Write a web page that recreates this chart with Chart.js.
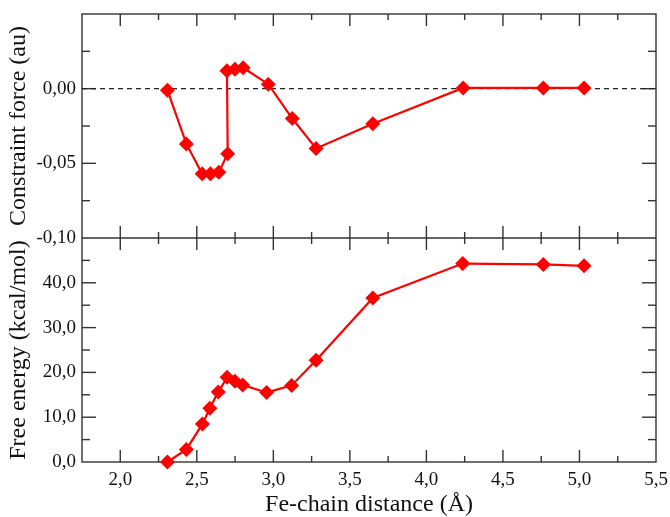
<!DOCTYPE html>
<html>
<head>
<meta charset="utf-8">
<script src="https://cdn.jsdelivr.net/npm/chart.js@4"></script>
<style>
    html, body { margin: 0; padding: 0; background: #fff; }
    #wrap { width: 670px; height: 517px; }
</style>
</head>
<body>
<div id="wrap"><canvas id="chart" width="670" height="517"></canvas></div>
<script>
// Fe-chain distance (Å) for each panel
const forceDist = [2.308, 2.432, 2.535, 2.589, 2.644, 2.702, 2.697, 2.749, 2.803, 2.967, 3.124, 3.279, 3.650, 4.240, 4.764, 5.030]
const forceValues = [-0.001, -0.037, -0.057, -0.057, -0.056, -0.0435, 0.012, 0.013, 0.014, 0.003, -0.020, -0.040, -0.0235, 0.0005, 0.0005, 0.0005]

const energyDist = [2.308, 2.432, 2.537, 2.585, 2.640, 2.698, 2.749, 2.800, 2.956, 3.120, 3.279, 3.650, 4.237, 4.764, 5.030]
const energyValues = [0.0, 2.8, 8.5, 12.0, 15.6, 18.9, 18.0, 17.2, 15.5, 17.1, 22.7, 36.6, 44.3, 44.1, 43.8]

// tick labels
const distTicks = [2.0, 2.5, 3.0, 3.5, 4.0, 4.5, 5.0, 5.5]
const forceTicks = [-0.10, -0.05, 0.00]
const energyTicks = [0, 10, 20, 30, 40]

const FONT = 'Liberation Serif, Times New Roman, serif'

function toPoints(xs, ys) {
    return xs.map((x, i) => ({ x: x, y: ys[i] }))
}

function comma(value, digits) {
    return Number(value).toFixed(digits).replace('.', ',')
}

function line(ctx, x1, y1, x2, y2) {
    ctx.beginPath()
    ctx.moveTo(x1, y1)
    ctx.lineTo(x2, y2)
    ctx.stroke()
}

// fixed axis sizes so the plot box sits where the reference has it
function fixWidth(scale) {
    scale.width = 82
    scale.paddingTop = 0
    scale.paddingBottom = 0
}

// frame, inward ticks on every side and the dashed zero line
const framePlugin = {
    id: 'frame',
    beforeDatasetsDraw(chart) {
        const { ctx, chartArea: a, scales } = chart
        const x = scales.x
        const yF = scales.yForce
        const yE = scales.yEnergy
        const mid = yF.bottom

        ctx.save()
        ctx.strokeStyle = '#333'
        ctx.lineWidth = 1.4
        ctx.strokeRect(a.left, a.top, a.right - a.left, a.bottom - a.top)
        line(ctx, a.left, mid, a.right, mid)

        // x ticks
        for (let v = 2.0; v < 5.5 - 1e-6; v += 0.25) {
            const major = Math.abs(v * 2 - Math.round(v * 2)) < 1e-6
            const len = major ? 12 : 6
            const px = x.getPixelForValue(v)
            line(ctx, px, a.top, px, a.top + len)
            line(ctx, px, mid - len, px, mid + len)
            line(ctx, px, a.bottom - len, px, a.bottom)
        }

        // y ticks
        const yTicks = (scale, step) => {
            for (let v = scale.min + step / 2; v < scale.max - step / 4; v += step / 2) {
                const major = Math.abs(v / step - Math.round(v / step)) < 1e-6
                const len = major ? 14 : 8
                const py = scale.getPixelForValue(v)
                line(ctx, a.left, py, a.left + len, py)
                line(ctx, a.right - len, py, a.right, py)
            }
        }
        yTicks(yF, 0.05)
        yTicks(yE, 10)

        // zero line
        ctx.strokeStyle = '#222'
        ctx.lineWidth = 1.2
        ctx.setLineDash([5, 4])
        const y0 = yF.getPixelForValue(0)
        line(ctx, a.left, y0, a.right, y0)
        ctx.restore()
    }
}

const series = {
    borderColor: '#ff0000',
    backgroundColor: '#ff0000',
    borderWidth: 2.2,
    pointStyle: 'rectRot',
    pointRadius: 7.5,
    pointBorderWidth: 0,
    tension: 0,
    clip: false
}

const tickFont = { family: FONT, size: 19 }
const titleFont = { family: FONT, size: 24, lineHeight: 1 }

new Chart(document.getElementById('chart'), {
    type: 'line',
    data: {
        datasets: [
            Object.assign({ data: toPoints(energyDist, energyValues), yAxisID: 'yEnergy' }, series),
            Object.assign({ data: toPoints(forceDist, forceValues), yAxisID: 'yForce' }, series)
        ]
    },
    options: {
        responsive: false,
        animation: false,
        layout: { padding: { left: 0, top: 14, right: 14, bottom: 0 } },
        plugins: { legend: { display: false }, tooltip: { enabled: false } },
        scales: {
            x: {
                type: 'linear',
                min: 1.75,
                max: 5.5,
                grid: { display: false, drawTicks: false },
                border: { display: false },
                afterBuildTicks: scale => { scale.ticks = distTicks.map(v => ({ value: v })) },
                afterFit: scale => {
                    scale.height = 55
                    scale.paddingLeft = 0
                    scale.paddingRight = 0
                },
                ticks: {
                    font: tickFont,
                    color: '#111',
                    padding: 7,
                    maxRotation: 0,
                    autoSkip: false,
                    callback: v => comma(v, 1)
                },
                title: {
                    display: true,
                    text: 'Fe-chain distance (Å)',
                    font: titleFont,
                    color: '#111',
                    padding: { top: 0, bottom: 0 }
                }
            },
            yEnergy: {
                type: 'linear',
                position: 'left',
                stack: 'panels',
                stackWeight: 1,
                min: 0,
                max: 50,
                grid: { display: false, drawTicks: false },
                border: { display: false },
                afterBuildTicks: scale => { scale.ticks = energyTicks.map(v => ({ value: v })) },
                afterFit: fixWidth,
                ticks: {
                    font: tickFont,
                    color: '#111',
                    padding: 6,
                    autoSkip: false,
                    callback: v => comma(v, 1)
                },
                title: {
                    display: true,
                    text: 'Free energy (kcal/mol)',
                    font: titleFont,
                    color: '#111',
                    padding: { top: 7, bottom: 0 }
                }
            },
            yForce: {
                type: 'linear',
                position: 'left',
                stack: 'panels',
                stackWeight: 1,
                min: -0.10,
                max: 0.05,
                grid: { display: false, drawTicks: false },
                border: { display: false },
                afterBuildTicks: scale => { scale.ticks = forceTicks.map(v => ({ value: v })) },
                afterFit: fixWidth,
                ticks: {
                    font: tickFont,
                    color: '#111',
                    padding: 6,
                    autoSkip: false,
                    callback: v => comma(v, 2)
                },
                title: {
                    display: true,
                    text: 'Constraint force (au)',
                    font: titleFont,
                    color: '#111',
                    padding: { top: 7, bottom: 0 }
                }
            }
        }
    },
    plugins: [framePlugin]
})
</script>
</body>
</html>
